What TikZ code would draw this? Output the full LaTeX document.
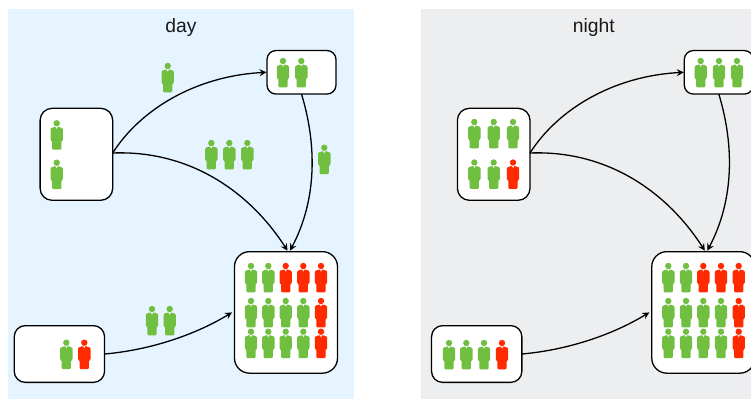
\documentclass[tikz,border=0pt]{standalone}
\usepackage{fontspec}
\setmainfont{Liberation Sans}
\usetikzlibrary{arrows.meta}
\definecolor{dayfill}{HTML}{E5F4FF}
\definecolor{nightfill}{HTML}{EDEEF0}
\definecolor{pgreen}{HTML}{70BF41}
\definecolor{pred}{HTML}{FF2A00}
\tikzset{
  panelbox/.style={fill=#1,draw=none},
  station/.style={draw=black,fill=white,line width=1.3pt,minimum width=#1,inner sep=0pt,outer sep=0pt},
  link/.style={draw=black,line width=1.3pt,-{Stealth[length=7pt,width=7pt,inset=2.5pt]}},
  title/.style={font=\fontsize{19.3pt}{22pt}\selectfont,text=black!90,inner sep=0pt,anchor=base},
  person/.pic={
    \fill[#1] (0,0) circle (3.2);
    \fill[#1,rounded corners=1pt] (-6.2,17.3) -- (-6.2,5) -- (-2,3.5) -- (2,3.5) -- (6.2,5) -- (6.2,17.3) -- (4.6,17.6) -- (4.6,26.3) -- (-4.6,26.3) -- (-4.6,17.6) -- cycle;
    \fill[white] (-1.1,3.4) -- (1.1,3.4) -- (0,5.6) -- cycle;
  }
}
% row of people: colour list as x/colour at height y
\newcommand{\peoplerow}[2]{\foreach \px/\pc in {#2} {\pic at (\px,#1) {person=\pc};}}
% the four stations and their connectors, common to both panels
\newcommand{\network}{
  \node[station=72.6pt,minimum height=92pt,rounded corners=12pt] (a) at (76.4,154.3) {};
  \node[station=69pt,minimum height=43.5pt,rounded corners=9pt] (b) at (301.5,72.3) {};
  \node[station=103pt,minimum height=121.5pt,rounded corners=15pt] (c) at (286,312.4) {};
  \node[station=90.3pt,minimum height=56.7pt,rounded corners=11pt] (d) at (59.4,354) {};
  \path[link] ([yshift=1.3pt]a.east) .. controls (140,110) and (195,76) .. ([xshift=-0.5pt]b.west);
  \path[link] ([yshift=1.3pt]a.east) .. controls (190,150) and (250,192) .. ([xshift=1.5pt,yshift=1pt]c.north);
  \path[link] (b.south) .. controls (317,145) and (317,200) .. ([xshift=4pt,yshift=1pt]c.north);
  \path[link] (d.east) .. controls (150,350) and (195,335) .. ([xshift=-2.5pt]c.west);
}
\begin{document}
\begin{tikzpicture}[x=1pt,y=-1pt]
\useasboundingbox (0,0) rectangle (751,399);
\clip (0,0) rectangle (751,399);
% day
\fill[panelbox=dayfill] (8,9) rectangle (354,399);
\begin{scope}[name prefix=d-]
  \node[title] (title) at (181,32) {day};
  \network
  \peoplerow{66}{167.7/pgreen}
  \peoplerow{61}{283/pgreen,301.3/pgreen}
  \peoplerow{123.3}{56.7/pgreen}
  \peoplerow{162.7}{56.7/pgreen}
  \peoplerow{143}{211.3/pgreen,229.3/pgreen,247.3/pgreen}
  \peoplerow{147.7}{324.3/pgreen}
  \peoplerow{266}{251/pgreen,268.3/pgreen,285.7/pred,303.3/pred,321/pred}
  \peoplerow{301}{251/pgreen,268.3/pgreen,285.7/pgreen,303.3/pgreen,321/pred}
  \peoplerow{331.7}{251/pgreen,268.3/pgreen,285.7/pgreen,303.3/pgreen,321/pred}
  \peoplerow{309}{152/pgreen,169.7/pgreen}
  \peoplerow{342.7}{66.3/pgreen,84.3/pred}
\end{scope}
% night
\fill[panelbox=nightfill] (421,9) rectangle (751,399);
\begin{scope}[name prefix=n-,xshift=417.3pt]
  \node[title] (title) at (176.5,32) {night};
  \network
  \peoplerow{122}{57/pgreen,76.4/pgreen,95.7/pgreen}
  \peoplerow{162.5}{57/pgreen,76.4/pgreen,95.7/pred}
  \peoplerow{61}{283.4/pgreen,301.7/pgreen,319.7/pgreen}
  \peoplerow{266}{251/pgreen,268.7/pgreen,286/pred,303.7/pred,321.4/pred}
  \peoplerow{301}{251/pgreen,268.7/pgreen,286/pgreen,303.7/pgreen,321.4/pred}
  \peoplerow{331.7}{251/pgreen,268.7/pgreen,286/pgreen,303.7/pgreen,321.4/pred}
  \peoplerow{343}{31.7/pgreen,49/pgreen,66.7/pgreen,84.7/pred}
\end{scope}
\end{tikzpicture}
\end{document}
